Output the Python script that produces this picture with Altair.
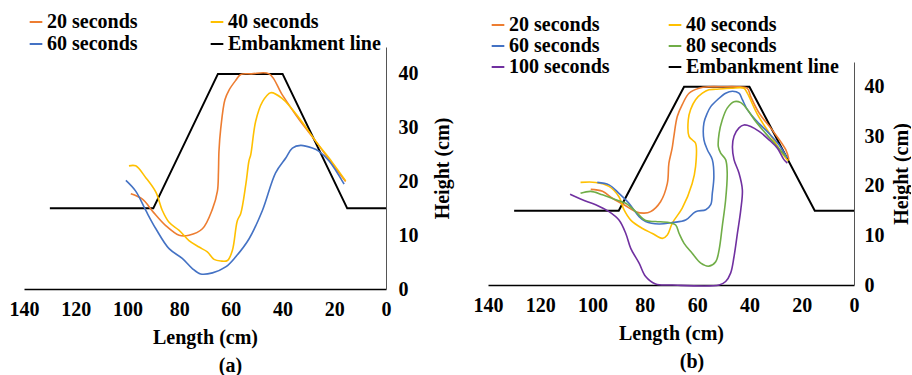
import altair as alt
import pandas as pd

FONT = "Liberation Serif"

# ---------- Embankment outline (shared) ----------
EMB_X = [130, 90, 65, 40, 15, 0]
EMB_Y = [15, 15, 40, 40, 15, 15]

# ---------- Panel (a) ----------
A20_X = [98.7, 94.2, 90.0, 85.2, 80.0, 76.2, 71.0, 67.1, 65.2, 64.8, 64.6, 63.9, 62.3, 60.7, 58.1, 56.2, 52.0, 45.2, 40.1, 33.6, 27.2, 20.7, 15.6]
A20_Y = [17.7, 16.7, 14.3, 11.8, 10.0, 10.0, 11.2, 14.9, 18.2, 21.7, 25.6, 29.9, 35.2, 37.0, 38.8, 39.9, 40.0, 40.0, 36.1, 31.5, 27.5, 23.2, 20.0]

A40_X = [99.4, 96.8, 92.9, 89.0, 86.5, 83.9, 80.0, 76.2, 72.3, 69.1, 66.5, 63.9, 61.3, 59.4, 57.5, 56.2, 54.2, 53.0, 52.3, 50.4, 47.8, 44.6, 40.1, 33.6, 27.2, 20.7, 15.6]
A40_Y = [22.9, 22.9, 20.7, 18.0, 14.6, 12.4, 10.9, 9.0, 7.8, 6.9, 5.5, 5.2, 5.3, 7.2, 12.7, 14.0, 19.5, 23.8, 25.0, 31.2, 34.8, 36.5, 35.4, 31.8, 27.5, 23.5, 20.1]

A60_X = [100.6, 96.8, 92.9, 89.0, 83.9, 78.8, 74.9, 71.7, 67.1, 62.0, 58.1, 53.0, 47.8, 42.7, 38.7, 36.2, 33.0, 28.5, 25.9, 22.0, 16.2]
A60_Y = [20.2, 18.2, 14.6, 11.2, 7.5, 5.7, 3.8, 2.8, 3.0, 4.1, 6.0, 9.3, 14.6, 21.6, 24.4, 26.2, 26.7, 26.2, 25.6, 23.8, 19.5]

# ---------- Panel (b) ----------
B20_X = [100.7, 96.2, 92.4, 88.0, 83.5, 80.3, 77.8, 74.0, 71.4, 70.8, 69.6, 68.9, 67.6, 65.7, 63.1, 59.3, 55.5, 50.0, 45.0, 40.8, 39.5, 36.3, 31.3, 26.1, 24.9]
B20_Y = [19.3, 18.9, 17.5, 16.2, 14.8, 14.5, 14.8, 16.8, 20.5, 24.6, 27.5, 30.0, 34.0, 36.4, 38.7, 39.7, 40.0, 40.0, 40.0, 39.7, 38.0, 34.7, 31.3, 27.3, 25.3]

B40_X = [104.6, 98.8, 93.7, 89.9, 88.0, 85.4, 80.9, 77.1, 73.3, 71.4, 69.5, 65.7, 61.9, 60.6, 60.6, 61.9, 63.1, 63.4, 62.5, 60.6, 58.0, 55.5, 52.9, 47.0, 42.1, 40.8, 37.0, 32.0, 28.0, 25.2]
B40_Y = [20.7, 20.7, 19.9, 17.8, 15.2, 13.1, 11.4, 10.4, 9.4, 10.1, 12.5, 15.5, 20.5, 23.9, 28.6, 29.3, 30.0, 33.3, 35.4, 37.4, 38.7, 39.4, 39.5, 39.7, 39.7, 38.7, 34.5, 30.3, 27.0, 25.0]

B60_X = [98.2, 93.7, 89.9, 86.1, 82.2, 79.7, 74.6, 69.5, 64.4, 60.6, 56.7, 54.8, 54.2, 53.6, 54.2, 56.1, 57.4, 57.4, 56.1, 54.8, 52.2, 49.1, 46.5, 44.0, 42.7, 40.8, 37.6, 32.5, 28.7, 25.5]
B60_Y = [20.7, 20.2, 18.5, 16.5, 13.8, 12.8, 12.3, 12.6, 13.1, 14.8, 15.2, 16.2, 18.5, 21.9, 25.3, 27.3, 29.3, 32.7, 34.7, 36.0, 37.4, 38.7, 39.1, 38.7, 37.4, 35.4, 33.3, 30.6, 28.3, 25.6]

B80_X = [104.6, 100.7, 96.2, 91.1, 87.3, 83.5, 79.7, 75.9, 70.8, 68.2, 66.9, 65.0, 61.9, 58.6, 55.5, 52.9, 51.6, 50.4, 49.1, 48.5, 49.1, 51.0, 51.9, 51.6, 50.4, 48.5, 45.9, 43.3, 40.8, 37.6, 33.8, 30.0, 26.1]
B80_Y = [18.5, 18.9, 18.2, 17.2, 16.5, 14.8, 13.0, 12.8, 12.6, 12.1, 10.4, 8.4, 6.4, 4.4, 3.8, 4.7, 7.1, 11.8, 17.2, 22.6, 25.3, 26.6, 27.9, 30.6, 33.3, 35.7, 37.0, 36.8, 35.4, 33.0, 30.6, 28.3, 25.9]

B100_X = [108.6, 103.9, 98.8, 93.7, 89.9, 87.3, 85.4, 82.2, 79.7, 75.9, 69.5, 51.6, 49.1, 47.2, 45.9, 44.6, 43.3, 42.7, 44.0, 45.9, 46.5, 45.9, 44.0, 42.1, 39.5, 36.3, 32.5, 29.3, 26.8, 25.5]
B100_Y = [18.3, 17.2, 16.2, 14.8, 13.1, 10.4, 7.4, 4.4, 1.7, 0.2, 0.0, 0.0, 0.7, 2.4, 5.7, 10.4, 15.2, 19.2, 22.6, 25.3, 27.9, 30.0, 31.7, 32.3, 32.0, 31.0, 29.3, 27.6, 25.3, 24.6]

X_TICKS = [0, 20, 40, 60, 80, 100, 120, 140]
Y_TICKS = [0, 10, 20, 30, 40]

COLORS = {
    "20 seconds": "#ED7D31",
    "40 seconds": "#FFC000",
    "60 seconds": "#4472C4",
    "80 seconds": "#70AD47",
    "100 seconds": "#7030A0",
    "Embankment line": "#000000",
}


def build_df(series):
    rows = []
    for name, xs, ys in series:
        for i, (x, y) in enumerate(zip(xs, ys)):
            rows.append({"series": name, "x": x, "y": y, "i": i})
    for i, (x, y) in enumerate(zip(EMB_X, EMB_Y)):
        rows.append({"series": "Embankment line", "x": x, "y": y, "i": i})
    return pd.DataFrame(rows)


def panel(series, legend_order, label, w, h, y_top, lx, ly, colpad, rowpad,
          lab_pad, title_pad):
    df = build_df(series)
    color = alt.Color(
        "series:N",
        scale=alt.Scale(domain=legend_order, range=[COLORS[n] for n in legend_order]),
        legend=alt.Legend(
            title=None, orient="none", legendX=lx, legendY=ly, columns=2,
            symbolType="stroke", symbolSize=160, symbolStrokeWidth=2,
            labelFont=FONT, labelFontSize=20, labelFontWeight="bold",
            labelColor="#000000", labelOffset=1, columnPadding=colpad,
            rowPadding=rowpad, labelLimit=300,
        ),
    )
    x = alt.X(
        "x:Q",
        scale=alt.Scale(domain=[0, 140], reverse=True, nice=False),
        axis=alt.Axis(values=X_TICKS, title="Length (cm)", titlePadding=8,
                      labelPadding=10, labelFlush=False,
                      domainColor="#000000", domainWidth=1.5),
    )
    y = alt.Y(
        "y:Q",
        scale=alt.Scale(domain=[0, 45], nice=False, range=[h, y_top]),
        axis=alt.Axis(orient="right", values=Y_TICKS, title="Height (cm)",
                      titleAngle=270, titleBaseline="top", titlePadding=title_pad,
                      labelPadding=lab_pad, domainColor="#555555"),
    )
    base = alt.Chart(df).encode(x=x, y=y, color=color, order="i:Q")
    emb = base.transform_filter(alt.datum.series == "Embankment line").mark_line(strokeWidth=2)
    cur = base.transform_filter(alt.datum.series != "Embankment line").mark_line(
        strokeWidth=1.6, interpolate="catmull-rom")
    return alt.layer(emb, cur).properties(
        width=w, height=h,
        title=alt.TitleParams(label, orient="bottom", frame="bounds", anchor="middle",
                              font=FONT, fontSize=20, fontWeight="bold", offset=9,
                              color="#000000"),
    )


pa = panel([("20 seconds", A20_X, A20_Y), ("40 seconds", A40_X, A40_Y),
            ("60 seconds", A60_X, A60_Y)],
           ["20 seconds", "60 seconds", "40 seconds", "Embankment line"],
           "(a)", 362, 242, 0, 2, -35, 68, 2, 12, 14)
pb = panel([("20 seconds", B20_X, B20_Y), ("40 seconds", B40_X, B40_Y),
            ("60 seconds", B60_X, B60_Y), ("80 seconds", B80_X, B80_Y),
            ("100 seconds", B100_X, B100_Y)],
           ["20 seconds", "60 seconds", "100 seconds", "40 seconds", "80 seconds", "Embankment line"],
           "(b)", 366, 238, 15, 0, -32, 54, 1, 10, 7)

chart = (
    alt.hconcat(pa, pb, spacing=21)
    .resolve_scale(color="independent")
    .properties(padding={"left": 9, "top": 12, "right": 0, "bottom": 0})
    .configure_view(stroke=None)
    .configure_axis(
        labelFont=FONT, labelFontSize=20, labelFontWeight="bold", labelColor="#000000",
        titleFont=FONT, titleFontSize=20, titleFontWeight="bold", titleColor="#000000",
        ticks=False, grid=False,
    )
)

chart.save("out.html", embed_options={"renderer": "svg", "actions": False})
